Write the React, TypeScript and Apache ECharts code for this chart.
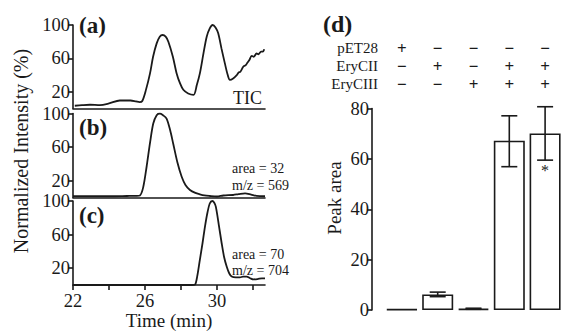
import React, { useEffect, useRef } from "react";
import * as echarts from "echarts";

// ---- Data: chromatograms (time in min, normalized intensity %) ----
const ticTime = [22.1, 22.5, 22.94, 23.5, 24.0, 24.6, 25.2, 25.5, 25.7, 25.85, 26.05, 26.28, 26.45, 26.65, 26.82, 26.98, 27.15, 27.3, 27.55, 27.76, 27.95, 28.13, 28.4, 28.7, 28.88, 29.05, 29.25, 29.43, 29.6, 29.76, 29.92, 30.07, 30.25, 30.44, 30.6, 30.72, 30.9, 31.1, 31.2, 31.3, 31.46, 31.6, 31.7, 31.8, 31.93, 32.05, 32.2, 32.3, 32.45, 32.55, 32.63];
const ticVals = [3.3, 4, 4.5, 4, 6, 9.6, 9.6, 8.5, 7.7, 9, 22, 42, 62, 78, 86, 88, 86, 80, 62, 42, 30, 22.4, 18, 16.4, 28, 42, 66, 86, 96, 100, 97, 90, 72, 54, 40, 34.3, 36, 40, 43, 44, 50, 52, 55, 58, 63, 62, 66, 65, 68, 68, 71];

const bTime = [22, 23, 24, 25, 25.5, 25.72, 25.9, 26.09, 26.28, 26.46, 26.65, 26.83, 27.0, 27.2, 27.4, 27.57, 27.8, 28.04, 28.25, 28.5, 28.8, 29.05, 29.3, 29.6, 30.0, 30.35, 30.9, 31.2, 31.56, 31.9, 32.2, 32.67];
const bVals = [1.5, 1.5, 1.5, 1.8, 2, 2.5, 12, 36.6, 65, 88, 98, 100, 98, 94, 80, 64, 42, 24.7, 15, 9, 5.5, 3.8, 2.5, 1.8, 1.2, 2.4, 3, 4, 5, 3.5, 2, 1.5];

const cTime = [22, 24, 26, 28, 28.6, 28.78, 28.9, 29.05, 29.2, 29.33, 29.47, 29.6, 29.74, 29.85, 29.94, 30.1, 30.26, 30.4, 30.54, 30.68, 30.82, 31.05, 31.28, 31.45, 31.65, 31.85, 32.02, 32.25, 32.5, 32.67];
const cVals = [0, 0, 0, 0, 0, 0.5, 10, 30, 50, 69, 86, 97, 100, 98, 93, 72, 50, 33, 22, 14, 10, 9, 9, 10, 10, 8, 6.7, 7, 8, 8];

const yTickValues = [20, 60, 100];
const xTickValues = [22, 24, 26, 28, 30, 32];
const xLabelValues = [22, 26, 30];

// ---- Data: peak areas ----
const categories = ["1", "2", "3", "4", "5"];
const pET28 = ["+", "−", "−", "−", "−"];
const eryCII = ["−", "+", "−", "+", "+"];
const eryCIII = ["−", "−", "+", "+", "+"];
const peakArea = [0.3, 6.2, 0.5, 67.2, 70.1];
const errLow = [0.3, 5.3, 0.3, 56.9, 59.5];
const errHigh = [0.3, 7.1, 0.7, 77.1, 80.7];
const sigMarks = ["", "", "", "", "*"];

const FONT = "Liberation Serif";
const INK = "#1a1a1a";

export default function App() {
  const ref = useRef<HTMLDivElement>(null);
  useEffect(() => {
    const chart = echarts.init(ref.current!, null, { renderer: "svg" });
    const leftGrids = [
      { left: 73, top: 25, width: 192, height: 83.5 },
      { left: 73, top: 113.5, width: 192, height: 84 },
      { left: 73, top: 201, width: 192, height: 84 },
    ];
    const lineAxis = { show: true, lineStyle: { color: INK, width: 1.6 } };
    const xAxes: any[] = leftGrids.map((_, i) => ({
      type: "value",
      gridIndex: i,
      min: 22,
      max: 32.67,
      axisLine: lineAxis,
      splitLine: { show: false },
      axisTick: i === 2
        ? { show: true, length: 5, customValues: xTickValues, lineStyle: { color: INK, width: 1.6 } }
        : { show: false },
      axisLabel: i === 2
        ? { show: true, customValues: xLabelValues, fontFamily: FONT, fontSize: 18.5, color: INK, margin: 6 }
        : { show: false },
      name: i === 2 ? "Time (min)" : "",
      nameLocation: "middle",
      nameGap: 25,
      nameTextStyle: { fontFamily: FONT, fontSize: 19, color: INK },
    }));
    const yAxes: any[] = leftGrids.map((_, i) => ({
      type: "value",
      gridIndex: i,
      min: 0,
      max: 100,
      axisLine: lineAxis,
      splitLine: { show: false },
      axisTick: { show: true, length: 5, customValues: yTickValues, lineStyle: { color: INK, width: 1.6 } },
      axisLabel: { show: true, customValues: yTickValues, fontFamily: FONT, fontSize: 18.5, color: INK, margin: 3 },
    }));
    // right panel
    xAxes.push({
      type: "category",
      gridIndex: 3,
      data: categories,
      show: false,
    });
    const rows = [pET28, eryCII, eryCIII];
    const rowOffsets = [53, 35, 17];
    rows.forEach((r, k) => {
      xAxes.push({
        type: "category",
        gridIndex: 3,
        position: "top",
        offset: rowOffsets[k],
        data: r,
        axisLine: { show: false },
        axisTick: { show: false },
        axisLabel: { fontFamily: FONT, fontSize: 17, lineHeight: 14, fontWeight: "bold", color: INK, margin: 0, interval: 0 },
      });
    });
    yAxes.push({
      type: "value",
      gridIndex: 3,
      min: 0,
      max: 80,
      interval: 20,
      offset: 12,
      axisLine: lineAxis,
      splitLine: { show: false },
      axisTick: { show: true, length: 5, lineStyle: { color: INK, width: 1.6 } },
      axisLabel: { fontFamily: FONT, fontSize: 18.5, color: INK, margin: 3 },
    });

    const mk = (t: number[], v: number[]) => t.map((x, i) => [x, v[i]]);
    const lineStyle = { color: INK, width: 1.8 };

    const option: any = {
      animation: false,
      grid: [...leftGrids, { left: 384, top: 108.5, width: 181.5, height: 201.5 }],
      xAxis: xAxes,
      yAxis: yAxes,
      series: [
        { type: "line", xAxisIndex: 0, yAxisIndex: 0, data: mk(ticTime, ticVals), showSymbol: false, smooth: 0.3, lineStyle },
        { type: "line", xAxisIndex: 1, yAxisIndex: 1, data: mk(bTime, bVals), showSymbol: false, smooth: 0.3, lineStyle },
        { type: "line", xAxisIndex: 2, yAxisIndex: 2, data: mk(cTime, cVals), showSymbol: false, smooth: 0.3, lineStyle },
        {
          type: "bar",
          xAxisIndex: 3,
          yAxisIndex: 3,
          data: peakArea,
          barWidth: 31,
          itemStyle: { color: "#fff", borderColor: INK, borderWidth: 1.6 },
        },
        {
          type: "custom",
          xAxisIndex: 3,
          yAxisIndex: 3,
          data: errLow.map((l, i) => [i, l, errHigh[i]]),
          encode: { x: 0, y: [1, 2] },
          z: 5,
          renderItem: (params: any, api: any) => {
            const i = api.value(0);
            const lo = api.coord([i, api.value(1)]);
            const hi = api.coord([i, api.value(2)]);
            const hw = 8;
            const st = { stroke: INK, lineWidth: 1.6 };
            const children: any[] = [];
            if (Math.abs(lo[1] - hi[1]) > 0.5) {
              children.push(
                { type: "line", shape: { x1: lo[0], y1: lo[1], x2: hi[0], y2: hi[1] }, style: st },
                { type: "line", shape: { x1: lo[0] - hw, y1: lo[1], x2: lo[0] + hw, y2: lo[1] }, style: st },
                { type: "line", shape: { x1: hi[0] - hw, y1: hi[1], x2: hi[0] + hw, y2: hi[1] }, style: st }
              );
            }
            const m = sigMarks[params.dataIndex];
            if (m) {
              children.push({
                type: "text",
                style: { text: m, x: lo[0], y: lo[1] + 2, align: "center", verticalAlign: "top", fontFamily: FONT, fontSize: 16, fill: INK },
              });
            }
            return { type: "group", children };
          },
        },
      ],
      graphic: [
        { type: "text", left: 79, top: 14, style: { text: "(a)", fontFamily: FONT, fontSize: 23, fontWeight: "bold", fill: INK } },
        { type: "text", left: 79, top: 116, style: { text: "(b)", fontFamily: FONT, fontSize: 23, fontWeight: "bold", fill: INK } },
        { type: "text", left: 79, top: 204, style: { text: "(c)", fontFamily: FONT, fontSize: 23, fontWeight: "bold", fill: INK } },
        { type: "text", left: 323, top: 12, style: { text: "(d)", fontFamily: FONT, fontSize: 24, fontWeight: "bold", fill: INK } },
        { type: "text", x: 262, y: 97.5, style: { text: "TIC", align: "right", verticalAlign: "middle", fontFamily: FONT, fontSize: 18, fill: INK } },
        { type: "text", x: 232, y: 168, style: { text: "area = 32", verticalAlign: "middle", fontFamily: FONT, fontSize: 14, fill: INK } },
        { type: "text", x: 232, y: 185, style: { text: "m/z = 569", verticalAlign: "middle", fontFamily: FONT, fontSize: 14, fill: INK } },
        { type: "text", x: 232, y: 254, style: { text: "area = 70", verticalAlign: "middle", fontFamily: FONT, fontSize: 14, fill: INK } },
        { type: "text", x: 232, y: 270, style: { text: "m/z = 704", verticalAlign: "middle", fontFamily: FONT, fontSize: 14, fill: INK } },
        { type: "text", x: 21, y: 151, rotation: Math.PI / 2, style: { text: "Normalized Intensity (%)", align: "center", verticalAlign: "middle", fontFamily: FONT, fontSize: 20, fill: INK } },
        { type: "text", x: 334, y: 198, rotation: Math.PI / 2, style: { text: "Peak area", align: "center", verticalAlign: "middle", fontFamily: FONT, fontSize: 19, fill: INK } },
        { type: "text", x: 378, y: 48, style: { text: "pET28", align: "right", verticalAlign: "middle", fontFamily: FONT, fontSize: 15, fill: INK } },
        { type: "text", x: 378, y: 66, style: { text: "EryCII", align: "right", verticalAlign: "middle", fontFamily: FONT, fontSize: 15, fill: INK } },
        { type: "text", x: 378, y: 84, style: { text: "EryCIII", align: "right", verticalAlign: "middle", fontFamily: FONT, fontSize: 15, fill: INK } },
      ],
    };
    chart.setOption(option);
    return () => chart.dispose();
  }, []);
  return <div ref={ref} style={{ width: 563, height: 332, position: "absolute", left: 0, top: 0, background: "#fff" }} />;
}
